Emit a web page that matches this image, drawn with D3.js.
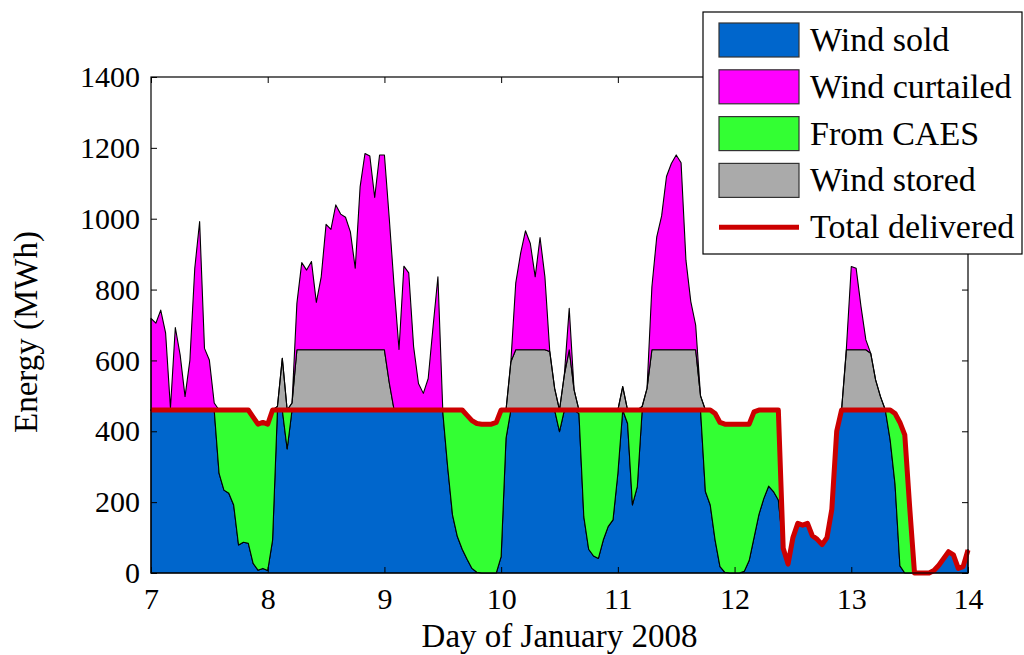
<!DOCTYPE html>
<html>
<head>
<meta charset="utf-8">
<script src="https://cdn.jsdelivr.net/npm/d3@7"></script>
<style>
  body { margin: 0; background: #fff; }
  svg text { font-family: "Liberation Serif", "DejaVu Serif", serif; fill: #000; }
</style>
</head>
<body>
<script>
// hourly values, 7 Jan 00:00 -> 14 Jan 00:00 (169 points), MWh
const hours = d3.range(0, 169);

const wind = [
  719, 705, 742, 678, 465, 693, 615, 498, 601, 860, 992, 634, 601, 480, 281, 234, 225, 192, 79, 87, 84, 27, 8, 13,
  7, 93, 470, 606, 350, 480, 761, 876, 855, 879, 764, 836, 984, 970, 1039, 1013, 1004, 963, 860, 1090, 1184, 1177, 1060, 1180,
  1180, 1000, 808, 631, 866, 847, 639, 535, 507, 549, 695, 836, 455, 300, 164, 103, 67, 39, 13, 2, 0, 0, 0, 0,
  46, 380, 596, 818, 902, 966, 930, 836, 947, 836, 625, 521, 399, 560, 747, 517, 450, 159, 67, 48, 41, 93, 131, 150,
  281, 526, 422, 192, 244, 470, 521, 808, 949, 1008, 1119, 1156, 1180, 1158, 883, 766, 700, 500, 230, 192, 93, 18, 2, 0,
  0, 0, 5, 35, 100, 165, 210, 245, 230, 206, 70, 25, 100, 140, 135, 140, 105, 95, 80, 100, 180, 400, 460, 635,
  865, 860, 752, 658, 620, 545, 498, 460, 375, 250, 20, 0, 0, 0, 0, 0, 0, 7, 22, 41, 60, 51, 13, 18,
  65
];

const delivered = [
  460, 460, 460, 460, 460, 460, 460, 460, 460, 460, 460, 460, 460, 460, 460, 460, 460, 460, 460, 460, 460, 440, 420, 425,
  420, 460, 460, 460, 460, 460, 460, 460, 460, 460, 460, 460, 460, 460, 460, 460, 460, 460, 460, 460, 460, 460, 460, 460,
  460, 460, 460, 460, 460, 460, 460, 460, 460, 460, 460, 460, 460, 460, 460, 460, 460, 445, 430, 422, 420, 420, 420, 425,
  460, 460, 460, 460, 460, 460, 460, 460, 460, 460, 460, 460, 460, 460, 460, 460, 460, 460, 460, 460, 460, 460, 460, 460,
  460, 460, 460, 460, 460, 460, 460, 460, 460, 460, 460, 460, 460, 460, 460, 460, 460, 460, 460, 460, 450, 425, 420, 420,
  420, 420, 420, 420, 455, 460, 460, 460, 460, 460, 70, 25, 100, 140, 135, 140, 105, 95, 80, 100, 180, 400, 460, 460,
  460, 460, 460, 460, 460, 460, 460, 460, 460, 450, 425, 390, 187, 0, 0, 0, 0, 7, 22, 41, 60, 51, 13, 18,
  65
];

const stored = [
  0, 0, 0, 0, 0, 0, 0, 0, 0, 0, 0, 0, 0, 0, 0, 0, 0, 0, 0, 0, 0, 0, 0, 0,
  0, 0, 10, 146, 0, 20, 170, 170, 170, 170, 170, 170, 170, 170, 170, 170, 170, 170, 170, 170, 170, 170, 170, 170,
  170, 77, 0, 0, 0, 0, 0, 0, 0, 0, 0, 0, 0, 0, 0, 0, 0, 0, 0, 0, 0, 0, 0, 0,
  0, 0, 136, 170, 170, 170, 170, 170, 170, 170, 165, 61, 0, 100, 170, 57, 0, 0, 0, 0, 0, 0, 0, 0,
  0, 66, 0, 0, 0, 10, 61, 170, 170, 170, 170, 170, 170, 170, 170, 170, 170, 40, 0, 0, 0, 0, 0, 0,
  0, 0, 0, 0, 0, 0, 0, 0, 0, 0, 0, 0, 0, 0, 0, 0, 0, 0, 0, 0, 0, 0, 0, 170,
  170, 170, 170, 170, 160, 85, 38, 0, 0, 0, 0, 0, 0, 0, 0, 0, 0, 0, 0, 0, 0, 0, 0, 0,
  0
];

const xTicks = [7, 8, 9, 10, 11, 12, 13, 14];
const yTicks = [0, 200, 400, 600, 800, 1000, 1200, 1400];

const keys = ["sold", "caes", "stored", "curtailed"];
const colors = { sold: "#0066cc", caes: "#33ff33", stored: "#aaaaaa", curtailed: "#ff00ff" };
const legendItems = [
  { label: "Wind sold", key: "sold" },
  { label: "Wind curtailed", key: "curtailed" },
  { label: "From CAES", key: "caes" },
  { label: "Wind stored", key: "stored" },
  { label: "Total delivered", key: "line" }
];

const rows = hours.map((h, i) => {
  const sold = Math.min(wind[i], delivered[i]);
  return {
    day: 7 + h / 24,
    sold: sold,
    caes: Math.max(0, delivered[i] - wind[i]),
    stored: stored[i],
    curtailed: Math.max(0, wind[i] - sold - stored[i]),
    delivered: delivered[i]
  };
});

const W = 1024, H = 655;
const pL = 151, pR = 968, pT = 77, pB = 573;

const svg = d3.select("body").append("svg")
  .attr("width", W)
  .attr("height", H);

const x = d3.scaleLinear().domain([7, 14]).range([pL, pR]);
const y = d3.scaleLinear().domain([0, 1400]).range([pB, pT]);

const series = d3.stack().keys(keys)(rows);

const area = d3.area()
  .x(d => x(d.data.day))
  .y0(d => y(d[0]))
  .y1(d => y(d[1]));

svg.append("g").selectAll("path")
  .data(series)
  .join("path")
    .attr("d", area)
    .attr("fill", d => colors[d.key])
    .attr("stroke", "#000")
    .attr("stroke-width", 1.1)
    .attr("stroke-linejoin", "round");

const line = d3.line()
  .x(d => x(d.day))
  .y(d => y(d.delivered));

svg.append("path")
  .datum(rows)
  .attr("d", line)
  .attr("fill", "none")
  .attr("stroke", "#cc0000")
  .attr("stroke-width", 5)
  .attr("stroke-linejoin", "round");

// axes, ticks inward on all four sides
const xb = svg.append("g")
  .attr("transform", "translate(0," + pB + ")")
  .call(d3.axisBottom(x).tickValues(xTicks).tickFormat(d3.format("d")).tickSizeInner(-6).tickSizeOuter(0).tickPadding(15));
const xt = svg.append("g")
  .attr("transform", "translate(0," + pT + ")")
  .call(d3.axisTop(x).tickValues(xTicks).tickFormat("").tickSizeInner(-6).tickSizeOuter(0));
const yl = svg.append("g")
  .attr("transform", "translate(" + pL + ",0)")
  .call(d3.axisLeft(y).tickValues(yTicks).tickFormat(d3.format("d")).tickSizeInner(-6).tickSizeOuter(0).tickPadding(11));
const yr = svg.append("g")
  .attr("transform", "translate(" + pR + ",0)")
  .call(d3.axisRight(y).tickValues(yTicks).tickFormat("").tickSizeInner(-6).tickSizeOuter(0));

[xb, xt, yl, yr].forEach(g => {
  g.attr("font-family", null).attr("font-size", null);
  g.select(".domain").remove();
  g.selectAll("line").attr("stroke", "#000");
  g.selectAll("text").attr("font-size", 30);
});

svg.append("rect")
  .attr("x", pL).attr("y", pT)
  .attr("width", pR - pL).attr("height", pB - pT)
  .attr("fill", "none")
  .attr("stroke", "#000")
  .attr("stroke-width", 1.2);

svg.append("text")
  .attr("x", (pL + pR) / 2)
  .attr("y", 647)
  .attr("text-anchor", "middle")
  .attr("font-size", 33)
  .text("Day of January 2008");

svg.append("text")
  .attr("transform", "translate(37," + 332 + ") rotate(-90)")
  .attr("text-anchor", "middle")
  .attr("font-size", 33)
  .text("Energy (MWh)");

// legend
const lg = svg.append("g");
lg.append("rect")
  .attr("x", 703).attr("y", 12)
  .attr("width", 319).attr("height", 242)
  .attr("fill", "#fff")
  .attr("stroke", "#000")
  .attr("stroke-width", 1.2);

legendItems.forEach((it, i) => {
  const cy = 40 + i * 46.8;
  if (it.key === "line") {
    lg.append("line")
      .attr("x1", 719).attr("x2", 799)
      .attr("y1", cy).attr("y2", cy)
      .attr("stroke", "#cc0000")
      .attr("stroke-width", 5);
  } else {
    lg.append("rect")
      .attr("x", 719).attr("y", cy - 17)
      .attr("width", 80).attr("height", 34)
      .attr("fill", colors[it.key])
      .attr("stroke", "#333")
      .attr("stroke-width", 1.2);
  }
  lg.append("text")
    .attr("x", 810)
    .attr("y", cy + 11)
    .attr("font-size", 34)
    .text(it.label);
});
</script>
</body>
</html>
